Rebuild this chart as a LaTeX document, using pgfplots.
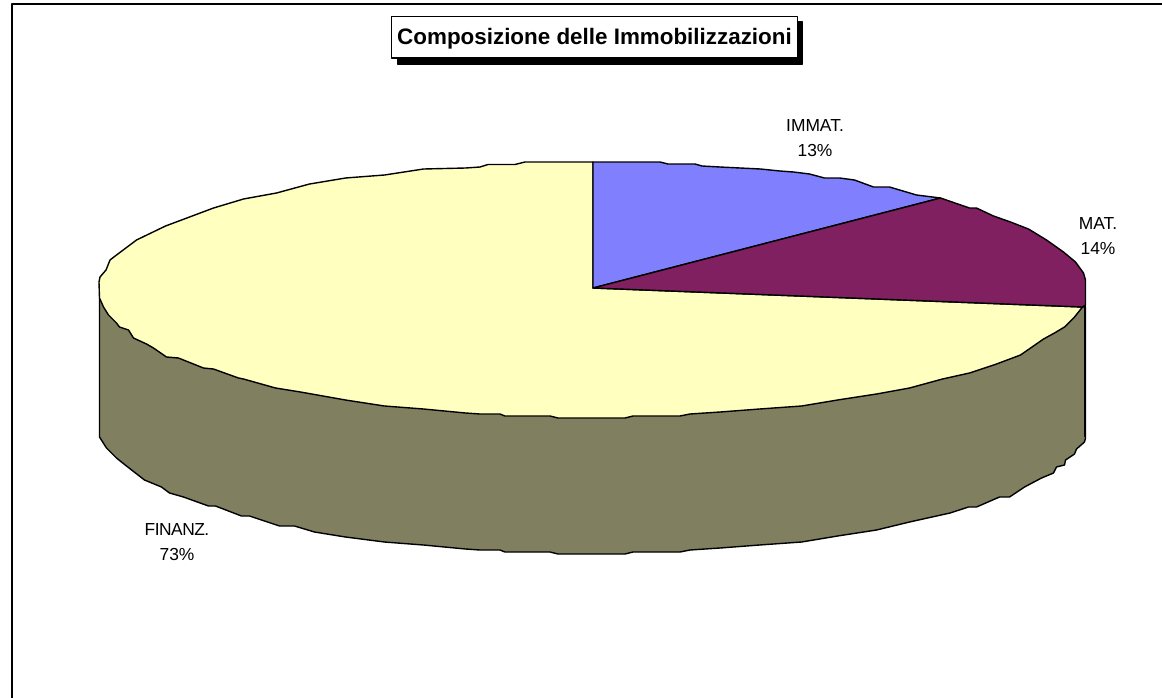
\documentclass[border=0pt]{standalone}
\usepackage{pgfplots}
\pgfplotsset{compat=1.18}
\usepackage{fontspec}
\setmainfont{Liberation Sans}
\definecolor{cblue}{HTML}{8080FF}
\definecolor{cmaroon}{HTML}{802060}
\definecolor{cyellow}{HTML}{FFFFC0}
\definecolor{cside}{HTML}{808060}
\begin{document}
\begin{tikzpicture}
\begin{axis}[
  width=581pt, height=348.5pt, scale only axis,
  xmin=-0.5, xmax=1161.5, ymin=-1, ymax=696, y dir=reverse,
  hide axis, clip=true,
  every axis plot/.append style={line join=round, no markers, line width=0.7pt}
]
% background
\addplot[fill=white, draw=none] coordinates {(-0.5,-1)(1161.5,-1)(1161.5,696)(-0.5,696)} -- cycle;
% frame
\addplot[black, line width=1pt] coordinates {(11,700)(11,3)(1170,3)};
% side wall
\addplot[fill=cside, draw=black] coordinates {
(1085,306)(1085,437)(1084,441)(1076,448)(1074,453)(1065,459)(1064,464)(1056,466)(1053,472)(1041,477)(1024,486)(1009,496)(999,496)(976,506)(968,506)(949.5,512)(909,521)(876,529)(837,535)(801,541)(759,544)(719.5,547)(704.5,548)(689.5,549)(679.5,551)(632.5,551)(624.5,553)(557.5,553)(549.5,551)(504.5,551)(499.5,549)(479.5,549)(465,548)(423,544)(384,541)(345,536)
(314,531)(294,525)(279,525)(249,515)(241,515)(215,505)(208,505)(183,496)(169,492)(161,486)(144,479)(126,465)(116,457)(106,447)(99,436)
(99,297)} -- cycle;
% yellow top slice
\addplot[fill=cyellow, draw=black] coordinates {
(592.5,287)(1082,306)(1074,316)(1064,326)(1054,332)(1043,338)(1020,354)(996,363)(969,372)(942,378)(909,387)(876,393)(837,399)(801,405)(759,408)(719.5,411)(704.5,412)(689.5,413)(679.5,415)(632.5,415)(624.5,417)(557.5,417)(549.5,415)(504.5,415)(499.5,413)(479.5,413)(465,412)(423,408)(384,405)(345,399)
(300,391)(275,387)(243,378)(238,377)(213,368)(203,367)(178,357)(166,356)(153,347)(146,343)(133,337)(128,329)(119,326)(116,322)(108,314)(103,306)(99,297)
(98.5,281)(99.5,276)(105.5,269)(109.5,259)(116,254)(136,239)(165,225)(189,216)(213,207)(243,198)(276,192)(309,183)(345,177)(384,174)(423,168)(465,167)(479.5,166)(487.5,163.5)(514.5,163.5)(524.5,161)(592.5,161)} -- cycle;
% blue top slice
\addplot[fill=cblue, draw=black] coordinates {
(592.5,287)(592.5,161)(659.5,161)(667.5,163)(694.5,163)(701.5,165)(719.5,166)(760,168)(779.5,170)(793,171)(809,173)(824,177)(839,177)(854,179)(873,186)(889,186)(916,194)(924,195)(940,197)} -- cycle;
% maroon top slice
\addplot[fill=cmaroon, draw=black] coordinates {
(592.5,287)(940,197)(969,207)(976,207)(993,215)(1010,221)(1028,228)(1046,239)(1063,251)(1075,261)(1083,272)(1085,279)(1085,304)(1082,306)} -- cycle;
% thick right edge
\addplot[black, line width=1.4pt] coordinates {(1084.5,304)(1084.5,436)};
% title box
\addplot[fill=black, draw=black] coordinates {(397,21)(802,21)(802,63)(397,63)} -- cycle;
\addplot[fill=white, draw=black] coordinates {(391,15.5)(797,15.5)(797,57)(391,57)} -- cycle;
\node[font=\bfseries\fontsize{11.2}{12}\selectfont, anchor=center] at (axis cs:594,37.5) {Composizione delle Immobilizzazioni};
\node[font=\fontsize{8.7}{12.5}\selectfont, align=center, anchor=center] at (axis cs:814.5,137.5) {IMMAT.\\13\%};
\node[font=\fontsize{8.7}{12.5}\selectfont, align=center, anchor=center] at (axis cs:1097.5,235) {MAT.\\14\%};
\node[font=\fontsize{8.7}{12.5}\selectfont, align=center, anchor=center] at (axis cs:176.5,541.5) {\addfontfeature{LetterSpace=-3}FINANZ.\\73\%};
\end{axis}
\end{tikzpicture}
\end{document}
